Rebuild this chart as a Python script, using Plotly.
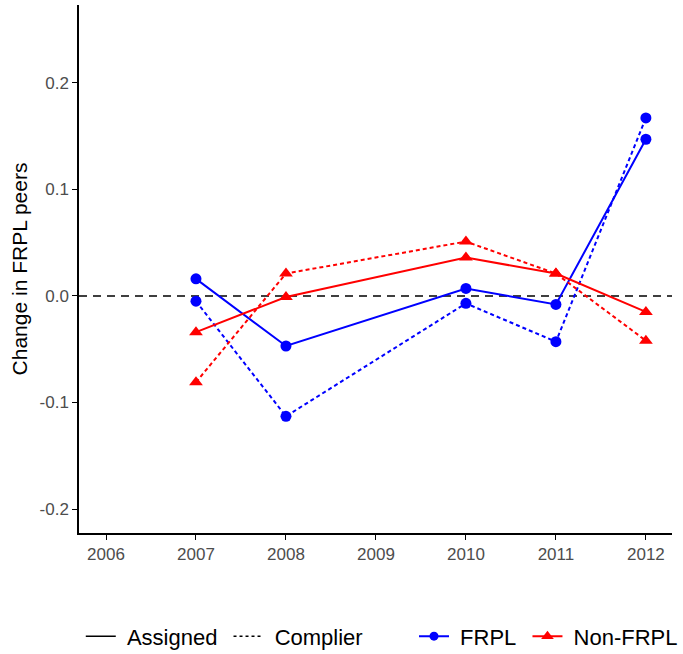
import plotly.graph_objects as go

# Cohort years with observations
years = [2007, 2008, 2010, 2011, 2012]

# Change in share of FRPL peers, by student group and estimate type
frpl_assigned = [0.016, -0.047, 0.007, -0.008, 0.147]
frpl_complier = [-0.005, -0.113, -0.007, -0.043, 0.167]
nonfrpl_assigned = [-0.034, -0.001, 0.036, 0.021, -0.015]
nonfrpl_complier = [-0.081, 0.021, 0.051, 0.021, -0.042]

x_ticks = [2006, 2007, 2008, 2009, 2010, 2011, 2012]
y_ticks = [-0.2, -0.1, 0.0, 0.1, 0.2]
y_tick_labels = ["-0.2", "-0.1", "0.0", "0.1", "0.2"]

BLUE = "#0000FF"
RED = "#FF0000"
DOTTED = "4px,3px"
FONT = "Liberation Sans, Arial, sans-serif"
PAD = "\u00a0"  # small gap around legend labels

fig = go.Figure()

series = [
    (frpl_assigned, BLUE, "solid", "circle", 11),
    (frpl_complier, BLUE, DOTTED, "circle", 11),
    (nonfrpl_assigned, RED, "solid", "triangle-up", 12),
    (nonfrpl_complier, RED, DOTTED, "triangle-up", 12),
]
for vals, color, dash, symbol, msize in series:
    fig.add_trace(go.Scatter(
        x=years, y=vals, mode="lines+markers",
        line=dict(color=color, width=2, dash=dash),
        marker=dict(color=color, symbol=symbol, size=msize),
        showlegend=False, hoverinfo="x+y",
    ))

# Legend entries: line type key
fig.add_trace(go.Scatter(x=[None], y=[None], mode="lines", name=PAD + "Assigned" + PAD,
                         line=dict(color="black", width=1.5), legend="legend"))
fig.add_trace(go.Scatter(x=[None], y=[None], mode="lines", name=PAD + "Complier",
                         line=dict(color="black", width=1.5, dash="3px,3px"),
                         legend="legend"))
# Legend entries: group key
fig.add_trace(go.Scatter(x=[None], y=[None], mode="lines+markers", name=PAD + "FRPL" + PAD,
                         line=dict(color=BLUE, width=2),
                         marker=dict(color=BLUE, symbol="circle", size=9),
                         legend="legend2"))
fig.add_trace(go.Scatter(x=[None], y=[None], mode="lines+markers", name=PAD + "Non-FRPL",
                         line=dict(color=RED, width=2),
                         marker=dict(color=RED, symbol="triangle-up", size=11),
                         legend="legend2"))

# Reference line at zero
fig.add_shape(type="line", xref="paper", yref="y", x0=0, x1=1, y0=0, y1=0,
              line=dict(color="black", width=1.5, dash="8px,6px"), layer="below")

legend_common = dict(orientation="h", yref="container", y=0.027, yanchor="middle",
                     font=dict(size=22, family=FONT), bgcolor="rgba(0,0,0,0)",
                     itemclick=False, itemdoubleclick=False)

fig.update_layout(
    width=683, height=654,
    margin=dict(l=79, r=11, t=5, b=121),
    paper_bgcolor="white", plot_bgcolor="white",
    font=dict(family=FONT, color="black"),
    xaxis=dict(
        range=[2005.7, 2012.29], tickmode="array", tickvals=x_ticks,
        showgrid=False, zeroline=False, showline=True, linecolor="black",
        linewidth=1.5, ticks="outside", ticklen=5, tickcolor="black",
        tickwidth=1.2, tickfont=dict(size=17, color="#4D4D4D", family=FONT),
    ),
    yaxis=dict(
        range=[-0.2225, 0.273], tickmode="array", tickvals=y_ticks,
        ticktext=y_tick_labels,
        showgrid=False, zeroline=False, showline=True, linecolor="black",
        linewidth=1.5, ticks="outside", ticklen=5, tickcolor="black",
        tickwidth=1.2, tickfont=dict(size=17, color="#4D4D4D", family=FONT),
        title=dict(text="Change in FRPL peers", font=dict(size=21, family=FONT),
                   standoff=6),
    ),
    legend=dict(x=0.003, xanchor="left", **legend_common),
    legend2=dict(x=0.578, xanchor="left", **legend_common),
)

fig.write_html("out.html")
